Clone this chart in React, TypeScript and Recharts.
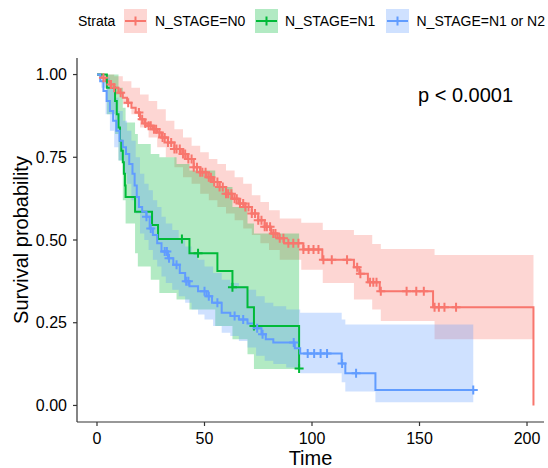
import { ComposedChart, Area, Line, Scatter, XAxis, YAxis, Label } from 'recharts'

const RED = '#F8766D'
const GREEN = '#00BA38'
const BLUE = '#619CFF'

const strata = ['N_STAGE=N0', 'N_STAGE=N1', 'N_STAGE=N1 or N2']
const xTicks = [0, 50, 100, 150, 200]
const yTicks = [0, 0.25, 0.5, 0.75, 1]

// N_STAGE=N0
const n0Time = [0, 2, 4, 6, 8, 10, 12, 14, 16, 18, 20, 22, 24, 26, 28, 30, 33, 36, 39, 42, 45, 48, 51, 54, 57, 60, 63, 66, 69, 72, 75, 78, 81, 84, 87, 96, 104.8, 119.5, 122, 126, 131.5, 156.3, 203]
const n0Surv = [1, 0.99, 0.98, 0.97, 0.96, 0.945, 0.93, 0.915, 0.9, 0.885, 0.865, 0.852, 0.845, 0.835, 0.825, 0.81, 0.795, 0.775, 0.76, 0.745, 0.72, 0.705, 0.69, 0.675, 0.66, 0.64, 0.625, 0.61, 0.6, 0.58, 0.56, 0.54, 0.52, 0.505, 0.49, 0.471, 0.44, 0.418, 0.398, 0.372, 0.345, 0.297, 0]
const n0BandTime = [0, 4, 8, 12, 16, 20, 24, 28, 32, 36, 40, 44, 48, 52, 56, 60, 64, 68, 72, 76, 80, 85, 95, 105, 119.5, 128, 132, 157, 203]
const n0Upper = [1, 1, 0.995, 0.98, 0.96, 0.94, 0.92, 0.895, 0.86, 0.835, 0.81, 0.785, 0.765, 0.745, 0.73, 0.71, 0.69, 0.67, 0.635, 0.615, 0.59, 0.565, 0.552, 0.53, 0.515, 0.488, 0.473, 0.455, 0.455]
const n0Lower = [1, 0.97, 0.94, 0.91, 0.88, 0.84, 0.81, 0.78, 0.75, 0.72, 0.69, 0.67, 0.64, 0.62, 0.6, 0.58, 0.56, 0.535, 0.515, 0.49, 0.47, 0.44, 0.41, 0.37, 0.32, 0.29, 0.255, 0.2, 0.2]
const n0Censor = [3, 6.5, 8, 11, 14.5, 19.5, 21, 22.5, 24, 25, 26.5, 27.5, 29, 30.5, 31.5, 33, 34.5, 36, 37, 38.5, 40, 41, 42.5, 44, 45, 46.5, 48, 49, 50.5, 52, 53, 54.5, 56, 57, 58.5, 60, 61, 62.5, 64, 65, 66.5, 68, 69, 70.5, 72, 73.5, 75, 76.5, 78, 79, 80.5, 82, 83, 85, 86.7, 89, 91.3, 93.7, 96, 98.4, 100.7, 103, 105.3, 109.2, 116.3, 121, 122.5, 127, 128.5, 130, 132, 144, 148.5, 152, 157, 159, 161.6, 167]

// N_STAGE=N1
const n1Time = [0, 4.6, 8.4, 9.2, 10, 10.7, 11.3, 12, 12.5, 13, 13.3, 17.7, 25.6, 28.4, 43, 56, 63, 70, 73, 94]
const n1Surv = [1, 0.96, 0.92, 0.88, 0.84, 0.8, 0.77, 0.735, 0.7, 0.665, 0.63, 0.585, 0.545, 0.503, 0.46, 0.406, 0.357, 0.297, 0.24, 0.112]
const n1BandTime = [0, 4.6, 8.4, 10, 12, 13.3, 17.7, 19, 25, 29, 37, 43, 55, 63, 70, 73, 94]
const n1Upper = [1, 1, 1, 0.96, 0.9, 0.855, 0.82, 0.79, 0.76, 0.75, 0.73, 0.71, 0.66, 0.6, 0.55, 0.52, 0.52]
const n1Lower = [1, 0.88, 0.82, 0.74, 0.62, 0.55, 0.46, 0.42, 0.38, 0.34, 0.32, 0.29, 0.24, 0.2, 0.155, 0.11, 0.11]
const n1Censor = [39.5, 47, 63, 73, 94]

// N_STAGE=N1 or N2
const n12Time = [0, 1.5, 3, 4.5, 6, 7.5, 9, 10.5, 12, 13.5, 15, 16.5, 17.5, 18.5, 19.5, 21, 23, 24.5, 26, 28, 30, 33, 35.5, 38.5, 41, 43, 47, 51, 53.5, 58, 62, 66, 70, 73, 76.5, 78.5, 82, 92, 94.5, 113.8, 115.5, 129.5, 175]
const n12Surv = [1, 0.98, 0.95, 0.92, 0.89, 0.86, 0.83, 0.8, 0.78, 0.76, 0.73, 0.7, 0.665, 0.63, 0.6, 0.585, 0.57, 0.535, 0.515, 0.49, 0.465, 0.445, 0.425, 0.4, 0.375, 0.36, 0.345, 0.33, 0.31, 0.28, 0.27, 0.26, 0.248, 0.233, 0.215, 0.2, 0.19, 0.173, 0.157, 0.127, 0.097, 0.047, 0.047]
const n12BandTime = [0, 2, 4, 6, 8, 10, 12, 14, 16, 18, 20, 22, 24, 26, 28, 30, 32, 35, 38, 41, 44, 47, 50, 54, 58, 62, 66, 70, 74, 78, 82, 88, 94.5, 113.8, 115.5, 129.5, 175]
const n12Upper = [1, 1, 0.99, 0.96, 0.93, 0.89, 0.86, 0.83, 0.8, 0.75, 0.7, 0.67, 0.65, 0.62, 0.6, 0.57, 0.55, 0.53, 0.5, 0.48, 0.46, 0.44, 0.42, 0.4, 0.38, 0.37, 0.36, 0.35, 0.33, 0.31, 0.3, 0.29, 0.28, 0.26, 0.245, 0.245, 0.245]
const n12Lower = [1, 0.96, 0.88, 0.83, 0.78, 0.74, 0.7, 0.67, 0.62, 0.58, 0.52, 0.5, 0.47, 0.44, 0.42, 0.39, 0.37, 0.35, 0.33, 0.31, 0.29, 0.275, 0.26, 0.24, 0.22, 0.21, 0.195, 0.175, 0.15, 0.135, 0.125, 0.115, 0.097, 0.07, 0.042, 0.01, 0.01]
const n12Censor = [23, 25, 31.5, 32.5, 33.5, 37, 41.5, 42.5, 50, 52, 56, 64, 68, 74.5, 77, 91.5, 98, 101, 104, 107, 114, 120.5, 175]

const curve = (time: number[], surv: number[]) => time.map((t, i) => ({ t, s: surv[i] }))
const band = (time: number[], lo: number[], hi: number[]) => time.map((t, i) => ({ t, ci: [lo[i], hi[i]] }))
const survAt = (time: number[], surv: number[], t: number) => {
  let v = surv[0]
  for (let i = 0; i < time.length; i++) if (time[i] <= t) v = surv[i]
  return v
}
const marks = (cens: number[], time: number[], surv: number[]) => cens.map(t => ({ t, s: survAt(time, surv, t) }))

const groups = [
  { name: strata[0], color: RED, line: curve(n0Time, n0Surv), ci: band(n0BandTime, n0Lower, n0Upper), cens: marks(n0Censor, n0Time, n0Surv) },
  { name: strata[1], color: GREEN, line: curve(n1Time, n1Surv), ci: band(n1BandTime, n1Lower, n1Upper), cens: marks(n1Censor, n1Time, n1Surv) },
  { name: strata[2], color: BLUE, line: curve(n12Time, n12Surv), ci: band(n12BandTime, n12Lower, n12Upper), cens: marks(n12Censor, n12Time, n12Surv) },
]

const plus = (color: string) => (p: any) => (
  <path d={`M${p.cx - 4.5},${p.cy}H${p.cx + 4.5}M${p.cx},${p.cy - 4.5}V${p.cy + 4.5}`} stroke={color} strokeWidth={2} fill="none" />
)

const font = '"Liberation Sans", Arial, sans-serif'
const keyLeft = [123.5, 255, 386]
const labelLeft = [155, 285, 416.5]

export default function App() {
  return (
    <div style={{ position: 'absolute', left: 0, top: 0, width: 548, height: 468, fontFamily: font, background: '#fff' }}>
      <div style={{ position: 'absolute', left: 78, top: 14, fontSize: 14, lineHeight: '14px', color: '#000' }}>Strata</div>
      {groups.map((g, i) => (
        <div key={g.name}>
          <svg style={{ position: 'absolute', left: keyLeft[i], top: 9 }} width={23} height={24}>
            <rect x={0} y={0} width={23} height={24} fill={g.color} fillOpacity={0.3} />
            <path d="M1,12H22M11.5,7.5V16.5" stroke={g.color} strokeWidth={2} />
          </svg>
          <div style={{ position: 'absolute', left: labelLeft[i], top: 14, fontSize: 14, lineHeight: '14px', color: '#000', whiteSpace: 'nowrap' }}>{g.name}</div>
        </div>
      ))}
      <div style={{ position: 'absolute', left: 418, top: 85, fontSize: 20, lineHeight: '20px', color: '#000', whiteSpace: 'nowrap' }}>p &lt; 0.0001</div>
      <div style={{ position: 'absolute', left: 0, top: 0 }}>
        <ComposedChart width={548} height={468} margin={{ top: 58, right: 4, bottom: 0, left: 0 }}>
          <XAxis
            type="number"
            dataKey="t"
            domain={[-9.3, 207.9]}
            allowDataOverflow
            ticks={xTicks}
            height={46}
            tickSize={4}
            tickMargin={7}
            stroke="#333"
            strokeWidth={1.2}
            tick={{ fill: '#000', fontSize: 16, fontFamily: font }}
          >
            <Label content={() => <text x={310.5} y={465} textAnchor="middle" fontSize={20} fontFamily={font} fill="#000">Time</text>} />
          </XAxis>
          <YAxis
            type="number"
            domain={[-0.05, 1.05]}
            allowDataOverflow
            ticks={yTicks}
            width={77}
            tickSize={4}
            tickMargin={6}
            stroke="#333"
            strokeWidth={1.2}
            tickFormatter={(v: number) => v.toFixed(2)}
            tick={{ fill: '#000', fontSize: 16, fontFamily: font }}
          >
            <Label content={() => <text x={-240} y={28} transform="rotate(-90)" textAnchor="middle" fontSize={20} fontFamily={font} fill="#000">Survival probability</text>} />
          </YAxis>
          {groups.map(g => (
            <Area key={'ci' + g.name} data={g.ci} dataKey="ci" type="stepAfter" stroke="none" fill={g.color} fillOpacity={0.3} isAnimationActive={false} />
          ))}
          {groups.map(g => (
            <Line key={'ln' + g.name} data={g.line} dataKey="s" type="stepAfter" stroke={g.color} strokeWidth={2} dot={false} activeDot={false} isAnimationActive={false} />
          ))}
          {groups.map(g => (
            <Scatter key={'cs' + g.name} data={g.cens} dataKey="s" shape={plus(g.color)} isAnimationActive={false} />
          ))}
        </ComposedChart>
      </div>
    </div>
  )
}
